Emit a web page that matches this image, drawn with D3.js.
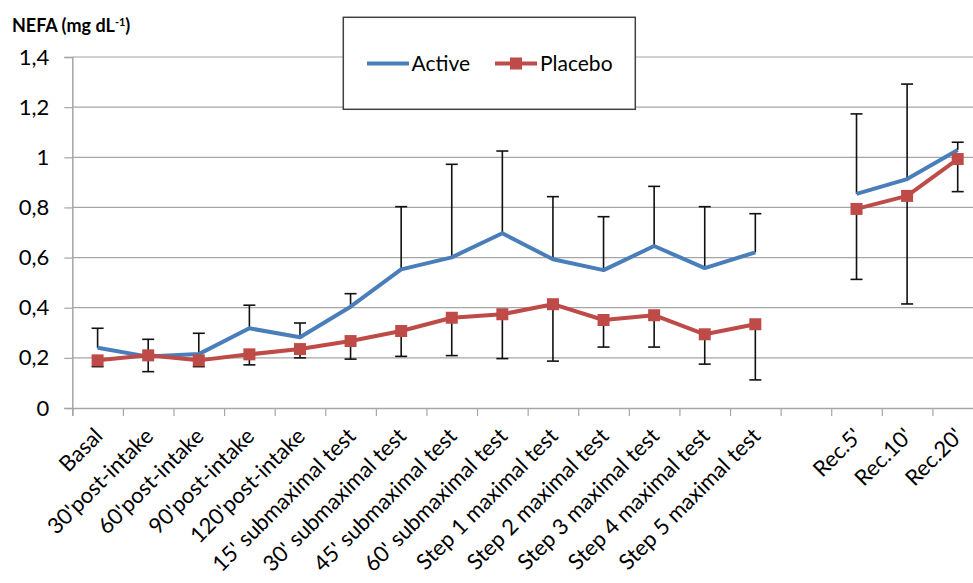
<!DOCTYPE html>
<html>
<head>
<meta charset="utf-8">
<script src="https://cdn.jsdelivr.net/npm/d3@7"></script>
<style>
  html, body { margin: 0; padding: 0; background: #fff; }
  svg { display: block; }
  text { font-family: Lato, "Open Sans", sans-serif; fill: #000; }
</style>
</head>
<body>
<svg id="chart" width="973" height="583"></svg>
<script>
// ---- data ----
const categories = ["Basal", "30'post-intake", "60'post-intake", "90'post-intake", "120'post-intake",
  "15' submaximal test", "30' submaximal test", "45' submaximal test", "60' submaximal test",
  "Step 1 maximal test", "Step 2 maximal test", "Step 3 maximal test", "Step 4 maximal test",
  "Step 5 maximal test", "", "Rec.5'", "Rec.10'", "Rec.20'"];
const activeValues = [0.24, 0.205, 0.215, 0.318, 0.282, 0.404, 0.553, 0.601, 0.697, 0.593, 0.55, 0.646, 0.558, 0.621, null, 0.854, 0.913, 1.029];
const placeboValues = [0.19, 0.21, 0.19, 0.214, 0.235, 0.267, 0.307, 0.36, 0.374, 0.414, 0.351, 0.37, 0.294, 0.334, null, 0.794, 0.846, 0.993];
const activeUpper = [0.318, 0.274, 0.298, 0.41, 0.339, 0.456, 0.803, 0.972, 1.025, 0.843, 0.763, 0.884, 0.803, 0.775, null, 1.173, 1.292, 1.06];
const placeboLower = [0.165, 0.145, 0.165, 0.172, 0.2, 0.195, 0.206, 0.209, 0.197, 0.187, 0.243, 0.243, 0.175, 0.112, null, 0.513, 0.415, 0.863];
const yTicks = [0, 0.2, 0.4, 0.6, 0.8, 1.0, 1.2, 1.4];
const yTickLabels = ["0", "0,2", "0,4", "0,6", "0,8", "1", "1,2", "1,4"];
const seriesNames = ["Active", "Placebo"];

// ---- layout ----
const svg = d3.select("#chart");
const plotLeft = 72.3, plotRight = 983, plotTop = 57, plotBottom = 408;
const BLUE = "#4a7ebb", RED = "#be4b48", GRID = "#a6a6a6";

const x = d3.scaleBand().domain(d3.range(categories.length)).range([plotLeft, plotRight]).padding(0);
const xb = d3.scaleLinear().domain([0, categories.length]).range([plotLeft, plotRight]);
const y = d3.scaleLinear().domain([0, 1.4]).range([plotBottom, plotTop]);
const cx = i => x(i) + x.bandwidth() / 2;

// gridlines
svg.append("g").selectAll("line").data(yTicks.filter(v => v > 0)).join("line")
  .attr("x1", plotLeft).attr("x2", plotRight)
  .attr("y1", d => y(d)).attr("y2", d => y(d))
  .attr("stroke", GRID).attr("stroke-width", 1.2);

// y axis
const yAxis = svg.append("g").attr("transform", `translate(${plotLeft},0)`)
  .call(d3.axisLeft(y).tickValues(yTicks).tickSize(8).tickPadding(15)
    .tickFormat((d, i) => yTickLabels[i]));
yAxis.select(".domain").attr("stroke", GRID).attr("stroke-width", 1.5);
yAxis.selectAll(".tick line").attr("stroke", GRID).attr("stroke-width", 1.2);
yAxis.selectAll(".tick text").style("font-size", "22px").style("font-family", "Lato, sans-serif").attr("fill", "#000");

// x axis
const xAxis = svg.append("g").attr("transform", `translate(0,${plotBottom})`)
  .call(d3.axisBottom(xb).tickValues(d3.range(categories.length + 1)).tickSize(8).tickFormat(""));
xAxis.select(".domain").attr("stroke", GRID).attr("stroke-width", 1.5);
xAxis.selectAll(".tick line").attr("stroke", GRID).attr("stroke-width", 1.2);

// x labels
svg.append("g").selectAll("text").data(categories).join("text")
  .attr("transform", (d, i) => `translate(${cx(i) + 1},${plotBottom + 24}) rotate(-45)`)
  .attr("text-anchor", "end")
  .attr("dy", "0.35em")
  .style("font-size", "22px")
  .text(d => d);

// error bars
const capW = 6;
function errorBars(values, ends, cls) {
  const data = values.map((v, i) => ({ i, v, e: ends[i] })).filter(d => d.v != null);
  const g = svg.append("g").attr("class", cls).attr("stroke", "#111").attr("stroke-width", 1.6);
  g.selectAll(".stem").data(data).join("line")
    .attr("x1", d => cx(d.i)).attr("x2", d => cx(d.i))
    .attr("y1", d => y(d.v)).attr("y2", d => y(d.e));
  g.selectAll(".cap").data(data).join("line")
    .attr("x1", d => cx(d.i) - capW).attr("x2", d => cx(d.i) + capW)
    .attr("y1", d => y(d.e)).attr("y2", d => y(d.e));
}
errorBars(activeValues, activeUpper, "eb-active");
errorBars(placeboValues, placeboLower, "eb-placebo");

// lines
const line = d3.line().defined(d => d.v != null).x(d => cx(d.i)).y(d => y(d.v));
const toPts = arr => arr.map((v, i) => ({ i, v }));
svg.append("path").datum(toPts(activeValues)).attr("d", line)
  .attr("fill", "none").attr("stroke", BLUE).attr("stroke-width", 4).attr("stroke-linejoin", "round");
svg.append("path").datum(toPts(placeboValues)).attr("d", line)
  .attr("fill", "none").attr("stroke", RED).attr("stroke-width", 4).attr("stroke-linejoin", "round");

// markers
const mk = 12;
svg.append("g").selectAll("rect").data(toPts(placeboValues).filter(d => d.v != null)).join("rect")
  .attr("x", d => cx(d.i) - mk / 2).attr("y", d => y(d.v) - mk / 2)
  .attr("width", mk).attr("height", mk).attr("fill", RED);

// title
const title = svg.append("text").attr("x", 12).attr("y", 32)
  .style("font-size", "18px").style("font-weight", "bold");
title.append("tspan").text("NEFA (mg dL");
title.append("tspan").attr("dy", -6).style("font-size", "11px").text("-1");
title.append("tspan").attr("dy", 6).text(")");

// legend
const lg = svg.append("g");
lg.append("rect").attr("x", 343.3).attr("y", 17.3).attr("width", 292).attr("height", 92)
  .attr("fill", "#fff").attr("stroke", "#404040").attr("stroke-width", 1.5);
lg.append("line").attr("x1", 367).attr("x2", 409).attr("y1", 63.5).attr("y2", 63.5)
  .attr("stroke", BLUE).attr("stroke-width", 4);
lg.append("text").attr("x", 411.5).attr("y", 71).style("font-size", "21px").text(seriesNames[0]);
lg.append("line").attr("x1", 495).attr("x2", 537).attr("y1", 63.5).attr("y2", 63.5)
  .attr("stroke", RED).attr("stroke-width", 4);
lg.append("rect").attr("x", 516 - mk / 2).attr("y", 63.5 - mk / 2).attr("width", mk).attr("height", mk).attr("fill", RED);
lg.append("text").attr("x", 540).attr("y", 71).style("font-size", "21px").text(seriesNames[1]);
</script>
</body>
</html>
